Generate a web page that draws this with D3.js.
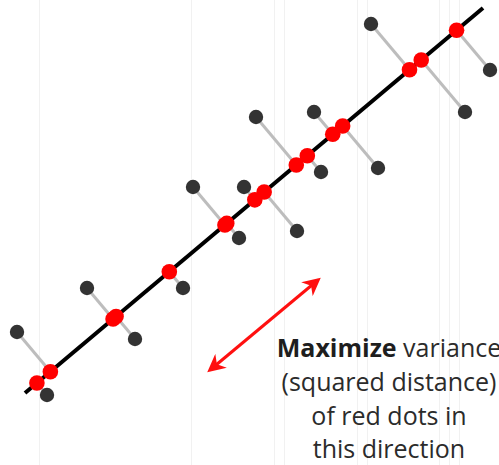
<!DOCTYPE html>
<html>
<head>
<meta charset="utf-8">
<script src="https://cdn.jsdelivr.net/npm/d3@7"></script>
<style>
  html, body { margin: 0; padding: 0; background: #fff; }
  svg { display: block; }
  .note { font-family: "Open Sans", sans-serif; font-size: 25px; fill: #2b2b2b; }
</style>
</head>
<body>
<svg id="chart" width="499" height="465"></svg>
<script>
// data points (units), gray dots
const pointX = [1.7, 4.7, 8.7, 13.5, 18.3, 19.3, 23.9, 24.4, 29.7, 25.6, 32.1, 31.4, 37.8, 37.1, 46.5, 49.0];
const pointY = [13.3, 7.0, 17.7, 12.6, 17.7, 27.8, 22.7, 27.8, 23.4, 34.8, 29.3, 35.3, 29.7, 44.1, 35.3, 39.5];

// principal direction, drawn as a segment
const axisX = [2.5, 48.3];
const axisY = [7.2, 45.7];

// double arrow
const arrowX = [21.0, 31.8];
const arrowY = [9.5, 18.5];

// faint vertical guides
const gridX = [3.9, 19.1, 27.4, 28.4, 35.7, 36.7, 43.9, 44.9, 45.9];

// annotation
const noteLines = [
    [{t: 'Maximize', bold: true}, {t: ' variance', bold: false}],
    [{t: '(squared distance)', bold: false}],
    [{t: 'of red dots in', bold: false}],
    [{t: 'this direction', bold: false}]
];
const noteX = 38.9;
const noteY = [10.8, 7.4, 4.0, 0.7];

const width = 499, height = 465;
const xScale = d3.scaleLinear().domain([0, 49.9]).range([0, width]);
const yScale = d3.scaleLinear().domain([0, 46.5]).range([height, 0]);

const svg = d3.select('#chart');

svg.append('g')
    .selectAll('line')
    .data(gridX)
    .enter()
    .append('line')
        .attr('x1', d => xScale(d) + 0.5)
        .attr('x2', d => xScale(d) + 0.5)
        .attr('y1', 0)
        .attr('y2', height)
        .attr('stroke', '#f1f1f1')
        .attr('stroke-width', 1);

// projection of each point onto the axis
const ux0 = axisX[1] - axisX[0], uy0 = axisY[1] - axisY[0];
const len = Math.sqrt(ux0 * ux0 + uy0 * uy0);
const ux = ux0 / len, uy = uy0 / len;

const points = pointX.map((x, i) => {
    const y = pointY[i];
    const t = (x - axisX[0]) * ux + (y - axisY[0]) * uy;
    return {x, y, px: axisX[0] + t * ux, py: axisY[0] + t * uy};
});

svg.append('g')
    .selectAll('line')
    .data(points)
    .enter()
    .append('line')
        .attr('x1', d => xScale(d.x))
        .attr('y1', d => yScale(d.y))
        .attr('x2', d => xScale(d.px))
        .attr('y2', d => yScale(d.py))
        .attr('stroke', '#bdbdbd')
        .attr('stroke-width', 3);

svg.append('line')
    .attr('x1', xScale(axisX[0]))
    .attr('y1', yScale(axisY[0]))
    .attr('x2', xScale(axisX[1]))
    .attr('y2', yScale(axisY[1]))
    .attr('stroke', '#000')
    .attr('stroke-width', 4);

svg.append('g')
    .selectAll('circle')
    .data(points)
    .enter()
    .append('circle')
        .attr('cx', d => xScale(d.x))
        .attr('cy', d => yScale(d.y))
        .attr('r', 7.2)
        .attr('fill', '#333');

svg.append('g')
    .selectAll('circle')
    .data(points)
    .enter()
    .append('circle')
        .attr('cx', d => xScale(d.px))
        .attr('cy', d => yScale(d.py))
        .attr('r', 7.8)
        .attr('fill', '#ff0000');

// arrow heads
const defs = svg.append('defs');
['start', 'end'].forEach(k => {
    defs.append('marker')
        .attr('id', 'head-' + k)
        .attr('viewBox', '0 0 10 10')
        .attr('refX', 8)
        .attr('refY', 5)
        .attr('markerUnits', 'userSpaceOnUse')
        .attr('markerWidth', 18)
        .attr('markerHeight', 18)
        .attr('orient', k === 'start' ? 'auto-start-reverse' : 'auto')
        .append('path')
            .attr('d', 'M0,0 L10,5 L0,10 L3,5 Z')
            .attr('fill', '#ff1010');
});

svg.append('line')
    .attr('x1', xScale(arrowX[0]))
    .attr('y1', yScale(arrowY[0]))
    .attr('x2', xScale(arrowX[1]))
    .attr('y2', yScale(arrowY[1]))
    .attr('stroke', '#ff1010')
    .attr('stroke-width', 3)
    .attr('marker-start', 'url(#head-start)')
    .attr('marker-end', 'url(#head-end)');

const note = svg.append('g');
noteLines.forEach((parts, i) => {
    const txt = note.append('text')
        .classed('note', true)
        .attr('x', xScale(noteX))
        .attr('y', yScale(noteY[i]))
        .attr('text-anchor', 'middle');
    parts.forEach(p => {
        txt.append('tspan')
            .attr('font-weight', p.bold ? 700 : 400)
            .attr('fill', p.bold ? '#1e1e1e' : '#2b2b2b')
            .text(p.t);
    });
});
</script>
</body>
</html>
